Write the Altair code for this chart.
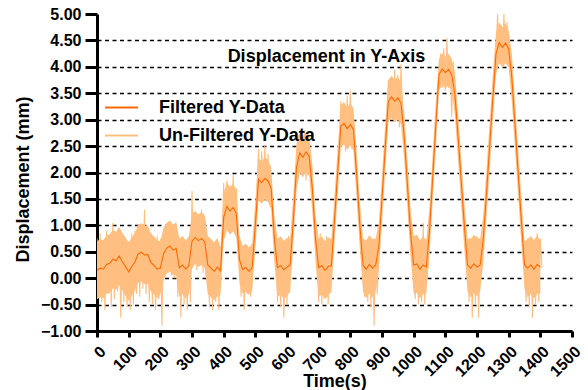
import altair as alt
import pandas as pd

# ---------------- data ----------------
time_filtered = list(range(0, 1401, 10))
filtered_y = [
    0.15, 0.19, 0.17, 0.26, 0.28, 0.36, 0.33, 0.42, 0.31, 0.22,   # 0-90
    0.12, 0.22, 0.31, 0.46, 0.49, 0.44, 0.45, 0.30, 0.24, 0.17,   # 100-190
    0.19, 0.46, 0.57, 0.61, 0.53, 0.56, 0.20, 0.25, 0.17, 0.24,   # 200-290
    0.70, 0.77, 0.71, 0.75, 0.69, 0.25, 0.19, 0.13, 0.21, 0.14,   # 300-390
    1.15, 1.36, 1.27, 1.34, 1.22, 0.35, 0.16, 0.20, 0.13, 0.20,   # 400-490
    1.00, 1.87, 1.81, 1.89, 1.84, 1.70, 0.75, 0.20, 0.24, 0.16,   # 500-590
    0.21, 0.25, 1.10, 2.10, 2.37, 2.29, 2.39, 2.31, 1.70, 0.75,   # 600-690
    0.20, 0.24, 0.15, 0.22, 0.24, 1.10, 2.00, 2.88, 2.93, 2.83,   # 700-790
    2.91, 2.81, 1.95, 1.00, 0.25, 0.17, 0.26, 0.19, 0.25, 0.60,   # 800-890
    1.50, 2.45, 3.35, 3.43, 3.35, 3.41, 3.31, 2.70, 1.80, 0.87,   # 900-990
    0.25, 0.27, 0.17, 0.25, 0.21, 0.90, 1.90, 2.90, 3.85, 3.96,   # 1000-1090
    3.89, 3.95, 3.85, 3.50, 2.70, 1.85, 1.00, 0.25, 0.19, 0.27,   # 1100-1190
    0.21, 0.25, 0.75, 1.60, 2.50, 3.40, 4.25, 4.46, 4.37, 4.45,   # 1200-1290
    4.34, 3.80, 2.90, 2.00, 1.10, 0.25, 0.19, 0.25, 0.17, 0.26,   # 1300-1390
    0.21,                                                         # 1400
]

# half-width of the dense part of the un-filtered band (same 10 s grid)
band_halfwidth = [
    0.55, 0.55, 0.55, 0.55, 0.55, 0.55, 0.55, 0.55, 0.55, 0.55,   # 0-90
    0.55, 0.55, 0.55, 0.55, 0.55, 0.55, 0.55, 0.55, 0.55, 0.55,   # 100-190
    0.50, 0.50, 0.48, 0.48, 0.48, 0.50, 0.55, 0.55, 0.55, 0.55,   # 200-290
    0.52, 0.50, 0.50, 0.50, 0.50, 0.55, 0.55, 0.55, 0.55, 0.45,   # 300-390
    0.45, 0.45, 0.45, 0.45, 0.45, 0.45, 0.45, 0.45, 0.45, 0.45,   # 400-490
    0.45, 0.40, 0.40, 0.40, 0.40, 0.40, 0.45, 0.55, 0.55, 0.55,   # 500-590
    0.55, 0.50, 0.45, 0.45, 0.38, 0.38, 0.38, 0.38, 0.45, 0.45,   # 600-690
    0.55, 0.55, 0.55, 0.55, 0.50, 0.45, 0.45, 0.40, 0.40, 0.40,   # 700-790
    0.40, 0.40, 0.45, 0.45, 0.50, 0.55, 0.55, 0.55, 0.50, 0.45,   # 800-890
    0.45, 0.45, 0.40, 0.40, 0.40, 0.40, 0.40, 0.45, 0.45, 0.45,   # 900-990
    0.55, 0.55, 0.55, 0.55, 0.50, 0.45, 0.45, 0.45, 0.30, 0.30,   # 1000-1090
    0.30, 0.30, 0.30, 0.40, 0.45, 0.45, 0.45, 0.50, 0.55, 0.55,   # 1100-1190
    0.55, 0.50, 0.45, 0.45, 0.45, 0.45, 0.40, 0.38, 0.38, 0.38,   # 1200-1290
    0.35, 0.45, 0.45, 0.45, 0.45, 0.45, 0.55, 0.55, 0.55, 0.55,   # 1300-1390
    0.50,                                                         # 1400
]

time_raw = list(range(0, 1406, 5))
unfiltered_y = [
    0.75, -0.35, 0.85, -0.45, 0.70, -0.60, 0.90, -0.30, 0.80, -0.55,   # 0-45
    1.05, -0.40, 0.85, -0.25, 0.95, -0.75, 0.80, -0.45, 0.75, -0.55,   # 50-95
    0.70, -0.60, 0.85, -0.50, 0.90, -0.30, 1.00, -0.35, 0.95, -0.20,   # 100-145
    1.30, -0.30, 0.90, -0.45, 0.85, -0.50, 0.75, -0.60, 0.80, -0.40,   # 150-195
    0.75, -0.90, 0.80, 0.05, 1.00, 0.10, 1.05, 0.05, 0.95, 0.00,       # 200-245
    1.00, -0.35, 0.65, -0.75, 0.70, -0.50, 0.60, -0.60, 0.75, -0.45,   # 250-295
    1.65, 0.30, 1.25, 0.15, 1.20, 0.25, 1.30, 0.10, 1.15, 0.05,        # 300-345
    0.60, -0.55, 0.70, -0.60, 0.55, -0.45, 0.65, -0.60, 0.50, 0.60,    # 350-395
    1.80, 0.85, 1.85, 0.95, 1.75, 0.90, 1.95, 1.00, 1.70, 0.80,        # 400-445
    0.55, -0.35, 0.50, -0.60, 0.45, -0.30, 0.55, -0.35, 0.40, 0.55,    # 450-495
    1.05, 1.65, 2.45, 1.55, 2.40, 1.60, 2.50, 1.45, 2.35, 1.55,        # 500-545
    1.75, 1.20, 0.70, 0.75, -0.45, 0.60, -0.55, 0.70, -0.75, 0.55,     # 550-595
    -0.50, 0.80, 0.30, 0.75, 1.15, 1.65, 2.15, 2.70, 2.05, 2.75,       # 600-645
    2.00, 2.80, 1.85, 2.70, 2.10, 2.05, 1.65, 1.20, 0.75, 0.55,        # 650-695
    -0.45, 0.85, -0.50, 0.70, -0.35, 0.80, -0.50, 0.75, 0.35, 0.70,    # 700-745
    1.10, 1.55, 2.05, 2.50, 3.35, 2.55, 3.25, 2.40, 3.45, 2.50,        # 750-795
    3.55, 2.45, 3.00, 2.40, 1.95, 1.45, 1.00, 0.55, 0.75, -0.35,       # 800-845
    0.70, -0.45, 0.75, -0.55, 0.60, -0.90, 0.70, -0.30, 0.70, 1.05,    # 850-895
    1.50, 1.95, 2.45, 2.90, 3.75, 3.05, 3.80, 3.00, 3.95, 3.10,        # 900-945
    3.85, 2.85, 4.05, 3.05, 2.75, 2.25, 1.80, 1.35, 0.85, 0.40,        # 950-995
    0.65, -0.40, 0.80, -0.50, 0.70, -0.45, 1.05, -0.50, 0.75, 0.20,    # 1000-1045
    0.90, 1.40, 1.90, 2.40, 2.90, 3.40, 3.85, 4.25, 3.60, 4.35,        # 1050-1095
    3.55, 4.55, 3.60, 4.20, 3.05, 4.10, 3.50, 3.10, 2.70, 2.25,        # 1100-1145
    1.85, 1.40, 1.00, 0.60, 0.70, -0.45, 0.75, -0.75, 0.65, -0.50,     # 1150-1195
    0.80, -0.75, 0.60, 0.35, 0.80, 1.20, 1.65, 2.05, 2.50, 2.95,       # 1200-1245
    3.40, 3.85, 4.30, 5.00, 4.05, 4.80, 4.00, 5.00, 4.10, 4.85,        # 1250-1295
    4.00, 4.15, 3.80, 3.35, 2.90, 2.45, 2.00, 1.55, 1.10, 0.65,        # 1300-1345
    0.30, -0.45, 0.75, -0.55, 0.70, -0.75, 0.65, -0.50, 0.85, -0.45,   # 1350-1395
    0.75, 0.20,                                                        # 1400-1405
]

y_ticks = [-1.0, -0.5, 0.0, 0.5, 1.0, 1.5, 2.0, 2.5, 3.0, 3.5, 4.0, 4.5, 5.0]
x_ticks = [0, 100, 200, 300, 400, 500, 600, 700, 800, 900, 1000, 1100, 1200, 1300, 1400, 1500]
series_names = ["Filtered Y-Data", "Un-Filtered Y-Data"]
series_colors = ["#FF6A00", "#FFBF80"]
chart_title = "Displacement in Y-Axis"

df_f = pd.DataFrame({"t": time_filtered, "y": filtered_y, "series": series_names[0]})
df_u = pd.DataFrame({"t": time_raw, "y": unfiltered_y, "series": series_names[1]})
df_band = pd.DataFrame({
    "t": time_filtered,
    "y": [min(5.0, f - h) for f, h in zip(filtered_y, band_halfwidth)],
    "y_hi": [min(5.0, f + h) for f, h in zip(filtered_y, band_halfwidth)],
})

FONT = "Liberation Sans"

x_enc = alt.X(
    "t:Q",
    title="Time(s)",
    scale=alt.Scale(domain=[0, 1500], nice=False, zero=False),
    axis=alt.Axis(
        values=x_ticks, format="d", labelAngle=-45, tickSize=6, labelPadding=6,
        labelOverlap=False, labelFlush=False, labelBound=False,
        titleY=55, titleBaseline="alphabetic", grid=False,
    ),
)
y_enc = alt.Y(
    "y:Q",
    title="Displacement (mm)",
    scale=alt.Scale(domain=[-1, 5], nice=False, zero=False),
    axis=alt.Axis(
        values=y_ticks, format=".2f", tickSize=12, labelPadding=4,
        labelOverlap=False, labelFlush=False,
        titlePadding=8, titleY=165, grid=True, gridColor="black", gridWidth=1.5,
        gridDash=[4, 3.5],
        gridOpacity={"condition": {"test": "datum.value > 4.9", "value": 0}, "value": 1},
    ),
)
color_enc = alt.Color(
    "series:N",
    scale=alt.Scale(domain=series_names, range=series_colors),
    legend=alt.Legend(
        title=None, orient="none", legendX=7, legendY=76, padding=0,
        symbolType="stroke", symbolSize=1089, symbolStrokeWidth=2,
        labelFont=FONT, labelFontWeight="bold", labelFontSize=18,
        labelColor="black", labelOffset=20, rowPadding=1,
    ),
)

band = alt.Chart(df_band).mark_area(color=series_colors[1], clip=True).encode(
    x=x_enc, y=y_enc, y2="y_hi:Q"
)
unf = alt.Chart(df_u).mark_line(strokeWidth=1.1, clip=True).encode(
    x=x_enc, y=y_enc, color=color_enc
)
fil = alt.Chart(df_f).mark_line(strokeWidth=1.1, clip=True).encode(
    x=x_enc, y=y_enc, color=color_enc
)

chart = (
    alt.layer(band, unf, fil)
    .properties(
        width=475,
        height=317,
        autosize="none",
        padding={"left": 97, "top": 14, "right": 16, "bottom": 59},
        title=alt.TitleParams(
            chart_title, font=FONT, fontSize=18, fontWeight="bold",
            color="black", anchor="middle", baseline="middle",
            offset=0, dx=-8, dy=69,
        ),
    )
    .configure_view(strokeWidth=0)
    .configure_axis(
        domainColor="black", domainWidth=3, tickColor="black", tickWidth=3,
        labelFont=FONT, labelFontWeight="bold", labelFontSize=16,
        labelColor="black", titleFont=FONT, titleFontWeight="bold",
        titleFontSize=18, titleColor="black",
    )
)

chart.save("out.html", embed_options={"renderer": "svg", "actions": False})
